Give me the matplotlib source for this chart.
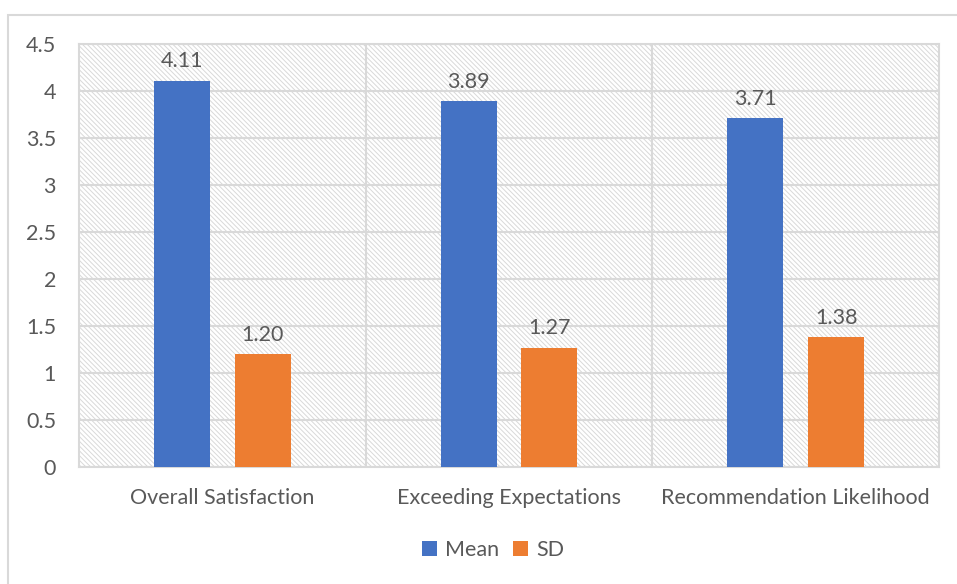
import numpy as np
import matplotlib
matplotlib.use("Agg")
import matplotlib.pyplot as plt
from matplotlib.patches import Rectangle

# --- data ---
categories = ["Overall Satisfaction", "Exceeding Expectations", "Recommendation Likelihood"]
mean_vals = [4.11, 3.89, 3.71]
sd_vals = [1.20, 1.27, 1.38]
series_names = ["Mean", "SD"]
yticks = [0, 0.5, 1, 1.5, 2, 2.5, 3, 3.5, 4, 4.5]

plt.rcParams["font.family"] = ["Lato", "DejaVu Sans"]
plt.rcParams["hatch.linewidth"] = 0.7
plt.rcParams["hatch.color"] = "#d9d9d9"

text_col = "#595959"
grid_col = "#d9d9d9"
fs = 15.5

fig = plt.figure(figsize=(9.57, 5.84), dpi=100)
fig.patch.set_facecolor("white")

# outer chart border
fig.patches.append(Rectangle((8 / 957, -0.1), 1.2, 1 - 15 / 584 + 0.1,
                             transform=fig.transFigure, fill=False,
                             edgecolor=grid_col, linewidth=1.5))

ax = fig.add_axes([79 / 957, 1 - 467 / 584, (939 - 79) / 957, (467 - 44) / 584])
ax.patch.set_facecolor("white")
ax.patch.set_hatch("\\\\\\\\\\\\\\")
ax.patch.set_edgecolor("#d9d9d9")

x = np.arange(len(categories))
w = 0.195
off = 0.141
b1 = ax.bar(x - off, mean_vals, w, color="#4472C4", label=series_names[0], zorder=3)
b2 = ax.bar(x + off, sd_vals, w, color="#ED7D31", label=series_names[1], zorder=3)

for bars, vals in ((b1, mean_vals), (b2, sd_vals)):
    for r, v in zip(bars, vals):
        ax.text(r.get_x() + r.get_width() / 2, v + 0.1, f"{v:.2f}",
                ha="center", va="bottom", fontsize=fs, color=text_col, zorder=4)

ax.set_xlim(-0.5, len(categories) - 0.5)
ax.set_ylim(0, 4.5)
ax.set_yticks(yticks)
ax.set_yticklabels([f"{t:g}" for t in yticks])
ax.set_xticks(x)
ax.set_xticklabels(categories)

# horizontal gridlines plus category separators
for t in yticks:
    ax.axhline(t, color=grid_col, linewidth=1.5, zorder=1)
for s in np.arange(0.5, len(categories) - 0.5, 1):
    ax.axvline(s, color=grid_col, linewidth=1.5, zorder=1)

for sp in ax.spines.values():
    sp.set_color(grid_col)
    sp.set_linewidth(1.5)

ax.tick_params(axis="both", length=0, labelsize=fs, colors=text_col)
ax.tick_params(axis="y", pad=16.5)
ax.tick_params(axis="x", pad=15)

leg = fig.legend(handles=[b1, b2], loc="center", bbox_to_anchor=(493 / 957, 1 - 550 / 584),
                 ncol=2, frameon=False, fontsize=fs, handlelength=0.7, handleheight=0.7,
                 handletextpad=0.4, columnspacing=0.6)
for t in leg.get_texts():
    t.set_color(text_col)

fig.savefig("out.png", dpi=100)
